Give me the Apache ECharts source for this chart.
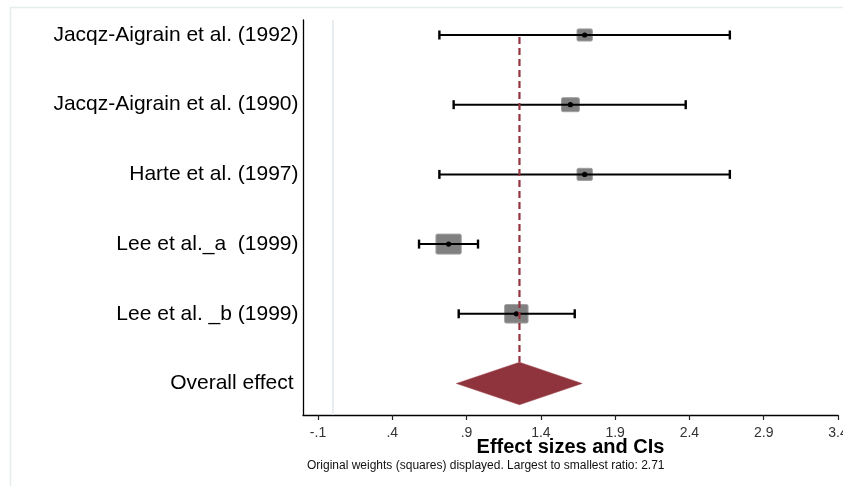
<!DOCTYPE html>
<html>
<head>
<meta charset="utf-8">
<script src="https://cdn.jsdelivr.net/npm/echarts@6/dist/echarts.min.js"></script>
<style>
html,body{margin:0;padding:0;background:#fff;overflow:hidden;}
#chart{width:843px;height:486px;}
</style>
</head>
<body>
<div id="chart"></div>
<script>
// ---- data ----
const studies = [
  'Jacqz-Aigrain et al. (1992)',
  'Jacqz-Aigrain et al. (1990)',
  'Harte et al. (1997)',
  'Lee et al._a  (1999)',
  'Lee et al. _b (1999)'
];
const effect = [1.695, 1.599, 1.695, 0.779, 1.235];
const ciLow  = [0.717, 0.813, 0.717, 0.580, 0.847];
const ciHigh = [2.672, 2.375, 2.672, 0.977, 1.628];
const weights = [1.00, 1.34, 1.00, 2.71, 2.32];
const overallLabel = ['Overall effect'];
const overallEffect = [0.831, 1.256, 1.678]; // low, estimate, high
const tickLabels = ['-.1', '.4', '.9', '1.4', '1.9', '2.4', '2.9', '3.4'];
const axisTitle = 'Effect sizes and CIs';
const noteText = 'Original weights (squares) displayed. Largest to smallest ratio: 2.71';

// ---- chart ----
const chart = echarts.init(document.getElementById('chart'), null, {renderer: 'canvas'});
const FONT = '"Liberation Sans", Arial, sans-serif';
const overallRow = studies.length;
const maxW = Math.max.apply(null, weights);

const studyData = studies.map((s, i) => [ciLow[i], effect[i], ciHigh[i], i, weights[i]]);

const yCommon = {type: 'value', inverse: true, min: -0.215, max: 5.452, show: false};

const option = {
  animation: false,
  backgroundColor: '#ffffff',
  graphic: [{
    type: 'rect', silent: true, z: -10,
    shape: {x: 10.5, y: 7.5, width: 900, height: 600},
    style: {fill: null, stroke: '#e6eded', lineWidth: 1.5}
  }],
  title: {
    text: noteText, left: 307, top: 460, padding: 0,
    textStyle: {fontFamily: FONT, fontSize: 12, fontWeight: 'normal', color: '#111'}
  },
  grid: [
    {left: 303, right: 5, top: 20, bottom: 71, containLabel: false, outerBoundsMode: 'none'},
    {left: 318, right: 5, top: 20, bottom: 71, containLabel: false, outerBoundsMode: 'none'}
  ],
  xAxis: [
    {
      type: 'value', gridIndex: 0, min: -0.2, max: 3.4,
      axisLine: {show: true, onZero: false, lineStyle: {color: '#000', width: 1.3}},
      axisTick: {show: false}, axisLabel: {show: false}, splitLine: {show: false},
      name: axisTitle, nameLocation: 'middle', nameGap: 22,
      nameTextStyle: {fontFamily: FONT, fontSize: 20, fontWeight: 'bold', color: '#000'}
    },
    {
      type: 'value', gridIndex: 1, min: -0.1, max: 3.4, interval: 0.5,
      axisLine: {show: false, onZero: false},
      axisTick: {show: true, length: 5, lineStyle: {color: '#222', width: 1.2}},
      axisLabel: {
        show: true, margin: 11, showMaxLabel: true, showMinLabel: true,
        fontFamily: FONT, fontSize: 14, color: '#333',
        formatter: function (v, i) {
          return tickLabels[i] !== undefined ? tickLabels[i] : String(v);
        }
      },
      splitLine: {show: false}
    }
  ],
  yAxis: [
    Object.assign({}, yCommon, {gridIndex: 0, show: true,
      axisLine: {show: true, onZero: false, lineStyle: {color: '#000', width: 1.3}},
      axisTick: {show: false}, axisLabel: {show: false}, splitLine: {show: false}}),
    Object.assign({}, yCommon, {gridIndex: 1})
  ],
  series: [
    // null reference line at x = 0
    {
      type: 'line', xAxisIndex: 1, yAxisIndex: 1, data: [], z: 1,
      markLine: {
        silent: true, symbol: 'none', label: {show: false},
        lineStyle: {color: '#dfe7ec', width: 1.5, type: 'solid'},
        data: [{xAxis: 0}]
      }
    },
    // study rows
    {
      type: 'custom', xAxisIndex: 1, yAxisIndex: 1, z: 3,
      data: studyData,
      renderItem: function (params, api) {
        const lo = api.value(0), est = api.value(1), hi = api.value(2);
        const row = api.value(3), w = api.value(4);
        const pLo = api.coord([lo, row]);
        const pEst = api.coord([est, row]);
        const pHi = api.coord([hi, row]);
        const side = 25.3 * Math.sqrt(w / maxW);
        const h = side * 0.79;
        const cy = pEst[1];
        const lineStyle = {stroke: '#000', lineWidth: 2};
        return {
          type: 'group',
          children: [
            {type: 'rect', shape: {x: pEst[0] - side / 2, y: cy - h / 2, width: side, height: h, r: 1.5},
             style: {fill: '#808080', stroke: '#a0a0a0', lineWidth: 1}},
            {type: 'line', shape: {x1: pLo[0], y1: cy, x2: pHi[0], y2: cy}, style: lineStyle},
            {type: 'line', shape: {x1: pLo[0], y1: cy - 4.5, x2: pLo[0], y2: cy + 4.5}, style: {stroke: '#000', lineWidth: 2.4}},
            {type: 'line', shape: {x1: pHi[0], y1: cy - 4.5, x2: pHi[0], y2: cy + 4.5}, style: {stroke: '#000', lineWidth: 2.4}},
            {type: 'circle', shape: {cx: pEst[0], cy: cy, r: 2.6}, style: {fill: '#000'}},
            {type: 'text', x: params.coordSys.x - 19.5, y: cy,
             style: {text: studies[params.dataIndex], font: '21px ' + FONT, fill: '#000',
                     align: 'right', verticalAlign: 'middle'}}
          ]
        };
      }
    },
    // overall effect diamond + dashed line
    {
      type: 'custom', xAxisIndex: 1, yAxisIndex: 1, z: 5,
      data: [[overallEffect[0], overallEffect[1], overallEffect[2], overallRow]],
      renderItem: function (params, api) {
        const lo = api.value(0), est = api.value(1), hi = api.value(2), row = api.value(3);
        const pLo = api.coord([lo, row]);
        const pEst = api.coord([est, row]);
        const pHi = api.coord([hi, row]);
        const pTop = api.coord([est, 0]);
        const hh = 21.3;
        const cy = pEst[1];
        return {
          type: 'group',
          children: [
            {type: 'polygon', shape: {points: [[pLo[0], cy], [pEst[0], cy - hh], [pHi[0], cy], [pEst[0], cy + hh]]},
             style: {fill: '#8f333c', stroke: '#a04a52', lineWidth: 0.5}},
            {type: 'line', shape: {x1: pEst[0], y1: pTop[1] + 2, x2: pEst[0], y2: cy - hh},
             style: {stroke: '#93343e', lineWidth: 2.2, lineDash: [7, 4]}},
            {type: 'text', x: params.coordSys.x - 24.5, y: cy,
             style: {text: overallLabel[0], font: '21px ' + FONT, fill: '#000',
                     align: 'right', verticalAlign: 'middle'}}
          ]
        };
      }
    }
  ]
};
chart.setOption(option);
</script>
</body>
</html>
